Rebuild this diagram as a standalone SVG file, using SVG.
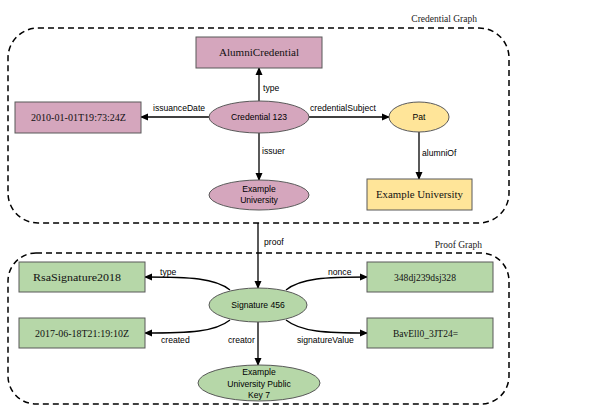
<svg xmlns="http://www.w3.org/2000/svg" width="590" height="412" viewBox="0 0 590 412">
<style>
.frame{fill:none;stroke:#000;stroke-width:1.5;stroke-dasharray:6,4}
.pink{fill:#d5a6bd;stroke:#595959;stroke-width:1}
.yellow{fill:#ffe599;stroke:#595959;stroke-width:1}
.green{fill:#b6d7a8;stroke:#595959;stroke-width:1}
.serif{font-family:"Liberation Serif","Times New Roman",serif;font-size:11px;font-weight:normal;fill:#111}
.sans{font-family:"Liberation Sans",Arial,sans-serif;font-size:8.6px;fill:#000}
.glabel{font-family:"Liberation Serif","Times New Roman",serif;font-size:9.5px;fill:#222}
.edge{fill:none;stroke:#000;stroke-width:1.3;marker-end:url(#arr)}
</style>
<defs>
<marker id="arr" markerWidth="8" markerHeight="8" refX="7" refY="4" orient="auto" markerUnits="userSpaceOnUse">
<path d="M0,0.5 L8,4 L0,7.5 Z" fill="#000"/>
</marker>
</defs>
<rect width="590" height="412" fill="#fff"/>
<g id="credential-graph">
<rect class="frame" x="8" y="28" width="501" height="195" rx="30" ry="30"/>
<text class="glabel" x="477" y="22" text-anchor="end">Credential Graph</text>
</g>
<g id="proof-graph">
<rect class="frame" x="8" y="253" width="501" height="151" rx="28" ry="28"/>
<text class="glabel" x="482" y="248" text-anchor="end">Proof Graph</text>
</g>
<g id="connectors">
<line class="edge" x1="259" y1="101" x2="259" y2="68"/>
<text class="sans" x="263" y="91">type</text>
<line class="edge" x1="209" y1="117" x2="141" y2="117"/>
<text class="sans" x="153" y="111">issuanceDate</text>
<line class="edge" x1="309" y1="117" x2="389" y2="117"/>
<text class="sans" x="310" y="111">credentialSubject</text>
<line class="edge" x1="259" y1="133" x2="259" y2="180"/>
<text class="sans" x="262" y="154">issuer</text>
<line class="edge" x1="419" y1="132" x2="419" y2="179"/>
<text class="sans" x="422" y="156">alumniOf</text>
<line class="edge" x1="258" y1="223" x2="258" y2="288"/>
<text class="sans" x="264" y="245">proof</text>
<path class="edge" d="M230,290 C215,278 190,277 145,277"/>
<text class="sans" x="160" y="275">type</text>
<path class="edge" d="M286,290 C301,278 326,277 367,277"/>
<text class="sans" x="328" y="275">nonce</text>
<path class="edge" d="M230,320 C215,332 190,333 145,333"/>
<text class="sans" x="161" y="343">created</text>
<path class="edge" d="M286,320 C301,332 326,333 367,333"/>
<text class="sans" x="297" y="343">signatureValue</text>
<line class="edge" x1="258" y1="322" x2="258" y2="365"/>
<text class="sans" x="228" y="343">creator</text>
</g>
<g id="alumni-credential">
<rect class="pink" x="196" y="37" width="126" height="31"/>
<text class="serif" x="219" y="56" textLength="80" lengthAdjust="spacingAndGlyphs">AlumniCredential</text>
</g>
<g id="credential-123">
<ellipse class="pink" cx="259" cy="117" rx="50" ry="16"/>
<text class="sans" x="259" y="120" text-anchor="middle">Credential 123</text>
</g>
<g id="issuance-date">
<rect class="pink" x="15" y="102" width="126" height="31"/>
<text class="serif" x="31" y="121" textLength="95" lengthAdjust="spacingAndGlyphs">2010-01-01T19:73:24Z</text>
</g>
<g id="pat">
<ellipse class="yellow" cx="419" cy="117" rx="30" ry="15"/>
<text class="sans" x="419" y="120" text-anchor="middle">Pat</text>
</g>
<g id="example-university-issuer">
<ellipse class="pink" cx="259" cy="195" rx="50" ry="15"/>
<text class="sans" x="259" y="192" text-anchor="middle">Example</text>
<text class="sans" x="259" y="203" text-anchor="middle">University</text>
</g>
<g id="example-university">
<rect class="yellow" x="367" y="179" width="105" height="31"/>
<text class="serif" x="376" y="198" textLength="87" lengthAdjust="spacingAndGlyphs">Example University</text>
</g>
<g id="signature-456">
<ellipse class="green" cx="258" cy="305" rx="49" ry="17"/>
<text class="sans" x="258" y="308" text-anchor="middle">Signature 456</text>
</g>
<g id="rsa-signature">
<rect class="green" x="19" y="262" width="126" height="30"/>
<text class="serif" x="33" y="281" textLength="88" lengthAdjust="spacingAndGlyphs">RsaSignature2018</text>
</g>
<g id="created-date">
<rect class="green" x="19" y="318" width="126" height="30"/>
<text class="serif" x="35" y="337" textLength="94" lengthAdjust="spacingAndGlyphs">2017-06-18T21:19:10Z</text>
</g>
<g id="nonce-value">
<rect class="green" x="367" y="262" width="126" height="30"/>
<text class="serif" x="394" y="281" textLength="62" lengthAdjust="spacingAndGlyphs">348dj239dsj328</text>
</g>
<g id="signature-value">
<rect class="green" x="367" y="318" width="126" height="30"/>
<text class="serif" x="393" y="337" textLength="65" lengthAdjust="spacingAndGlyphs">BavEll0_3JT24=</text>
</g>
<g id="public-key">
<ellipse class="green" cx="259" cy="383" rx="61" ry="18"/>
<text class="sans" x="259" y="375" text-anchor="middle">Example</text>
<text class="sans" x="259" y="387" text-anchor="middle">University Public</text>
<text class="sans" x="259" y="398" text-anchor="middle">Key 7</text>
</g>
</svg>
